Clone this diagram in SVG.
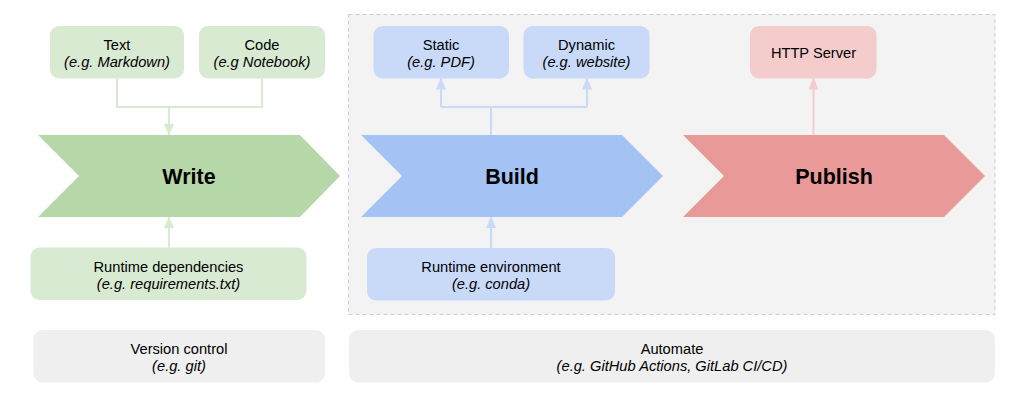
<svg xmlns="http://www.w3.org/2000/svg" width="1031" height="413" viewBox="0 0 1031 413">
  <defs>
    <style>
      text { font-family: "Liberation Sans", Arial, sans-serif; fill: #000; text-anchor: middle; }
      .t { font-size: 14.67px; }
      .i { font-size: 14.67px; font-style: italic; }
      .big { font-size: 21.5px; font-weight: bold; }
      .conn { fill: none; stroke-width: 2; }
      .g { stroke: #d9ead3; }
      .b { stroke: #c9daf8; }
      .r { stroke: #f4cccc; }
    </style>
    <marker id="ag" viewBox="0 0 12 10" refX="11" refY="5" markerWidth="12" markerHeight="10" markerUnits="userSpaceOnUse" orient="auto">
      <path d="M0,0 L12,5 L0,10 Z" fill="#d9ead3"/>
    </marker>
    <marker id="ab" viewBox="0 0 12 10" refX="11" refY="5" markerWidth="12" markerHeight="10" markerUnits="userSpaceOnUse" orient="auto">
      <path d="M0,0 L12,5 L0,10 Z" fill="#c9daf8"/>
    </marker>
    <marker id="ar" viewBox="0 0 12 10" refX="11" refY="5" markerWidth="12" markerHeight="10" markerUnits="userSpaceOnUse" orient="auto">
      <path d="M0,0 L12,5 L0,10 Z" fill="#f4cccc"/>
    </marker>
  </defs>
  <rect width="1031" height="413" fill="#ffffff"/>

  <g id="container">
    <rect x="348.5" y="14.5" width="646.5" height="300" fill="#f3f3f3" stroke="#cccccc" stroke-width="1" stroke-dasharray="4,3"/>
  </g>

  <g id="connectors">
    <path class="conn g" d="M117,78.5 V107 H262 V78.5"/>
    <path class="conn g" d="M169,107 V135" marker-end="url(#ag)"/>
    <path class="conn g" d="M169,247.5 V217" marker-end="url(#ag)"/>
    <path class="conn b" d="M491,135 V107"/>
    <path class="conn b" d="M441,107 H587"/>
    <path class="conn b" d="M441,107 V78.5" marker-end="url(#ab)"/>
    <path class="conn b" d="M587,107 V78.5" marker-end="url(#ab)"/>
    <path class="conn b" d="M491,248 V217" marker-end="url(#ab)"/>
    <path class="conn r" d="M813.5,135 V78.5" marker-end="url(#ar)"/>
  </g>

  <g id="text-node">
    <rect x="50" y="26" width="134" height="52.5" rx="9" fill="#d9ead3"/>
    <text class="t" x="117" y="50">Text</text>
    <text class="i" x="117" y="67">(e.g. Markdown)</text>
  </g>
  <g id="code-node">
    <rect x="199" y="26" width="126" height="52.5" rx="9" fill="#d9ead3"/>
    <text class="t" x="262" y="50">Code</text>
    <text class="i" x="262" y="67">(e.g Notebook)</text>
  </g>
  <g id="write-node">
    <polygon points="38,135 300,135 340,176 300,217 38,217 79,176" fill="#b6d7a8"/>
    <text class="big" x="189" y="184">Write</text>
  </g>
  <g id="deps-node">
    <rect x="30.5" y="247.5" width="276" height="52.5" rx="9" fill="#d9ead3"/>
    <text class="t" x="168.5" y="271.5">Runtime dependencies</text>
    <text class="i" x="168.5" y="288.5">(e.g. requirements.txt)</text>
  </g>

  <g id="static-node">
    <rect x="373.5" y="26" width="135.5" height="52.5" rx="9" fill="#c9daf8"/>
    <text class="t" x="441" y="50">Static</text>
    <text class="i" x="441" y="67">(e.g. PDF)</text>
  </g>
  <g id="dynamic-node">
    <rect x="523.5" y="26" width="126" height="52.5" rx="9" fill="#c9daf8"/>
    <text class="t" x="586.5" y="50">Dynamic</text>
    <text class="i" x="586.5" y="67">(e.g. website)</text>
  </g>
  <g id="build-node">
    <polygon points="361,135 622,135 663,176 622,217 361,217 402,176" fill="#a4c2f4"/>
    <text class="big" x="512" y="184">Build</text>
  </g>
  <g id="env-node">
    <rect x="367" y="248" width="248" height="52.5" rx="9" fill="#c9daf8"/>
    <text class="t" x="491" y="272">Runtime environment</text>
    <text class="i" x="491" y="289">(e.g. conda)</text>
  </g>

  <g id="http-node">
    <rect x="750" y="26" width="126.5" height="52.5" rx="9" fill="#f4cccc"/>
    <text class="t" x="813.5" y="58">HTTP Server</text>
  </g>
  <g id="publish-node">
    <polygon points="683,135 944,135 985,176 944,217 683,217 724,176" fill="#ea9999"/>
    <text class="big" x="834" y="184">Publish</text>
  </g>

  <g id="version-node">
    <rect x="33.5" y="330" width="291.5" height="52.5" rx="9" fill="#efefef"/>
    <text class="t" x="179" y="353.5">Version control</text>
    <text class="i" x="179" y="370.5">(e.g. git)</text>
  </g>
  <g id="automate-node">
    <rect x="349" y="330" width="646" height="52.5" rx="9" fill="#efefef"/>
    <text class="t" x="672" y="353.5">Automate</text>
    <text class="i" x="672" y="370.5">(e.g. GitHub Actions, GitLab CI/CD)</text>
  </g>
</svg>
